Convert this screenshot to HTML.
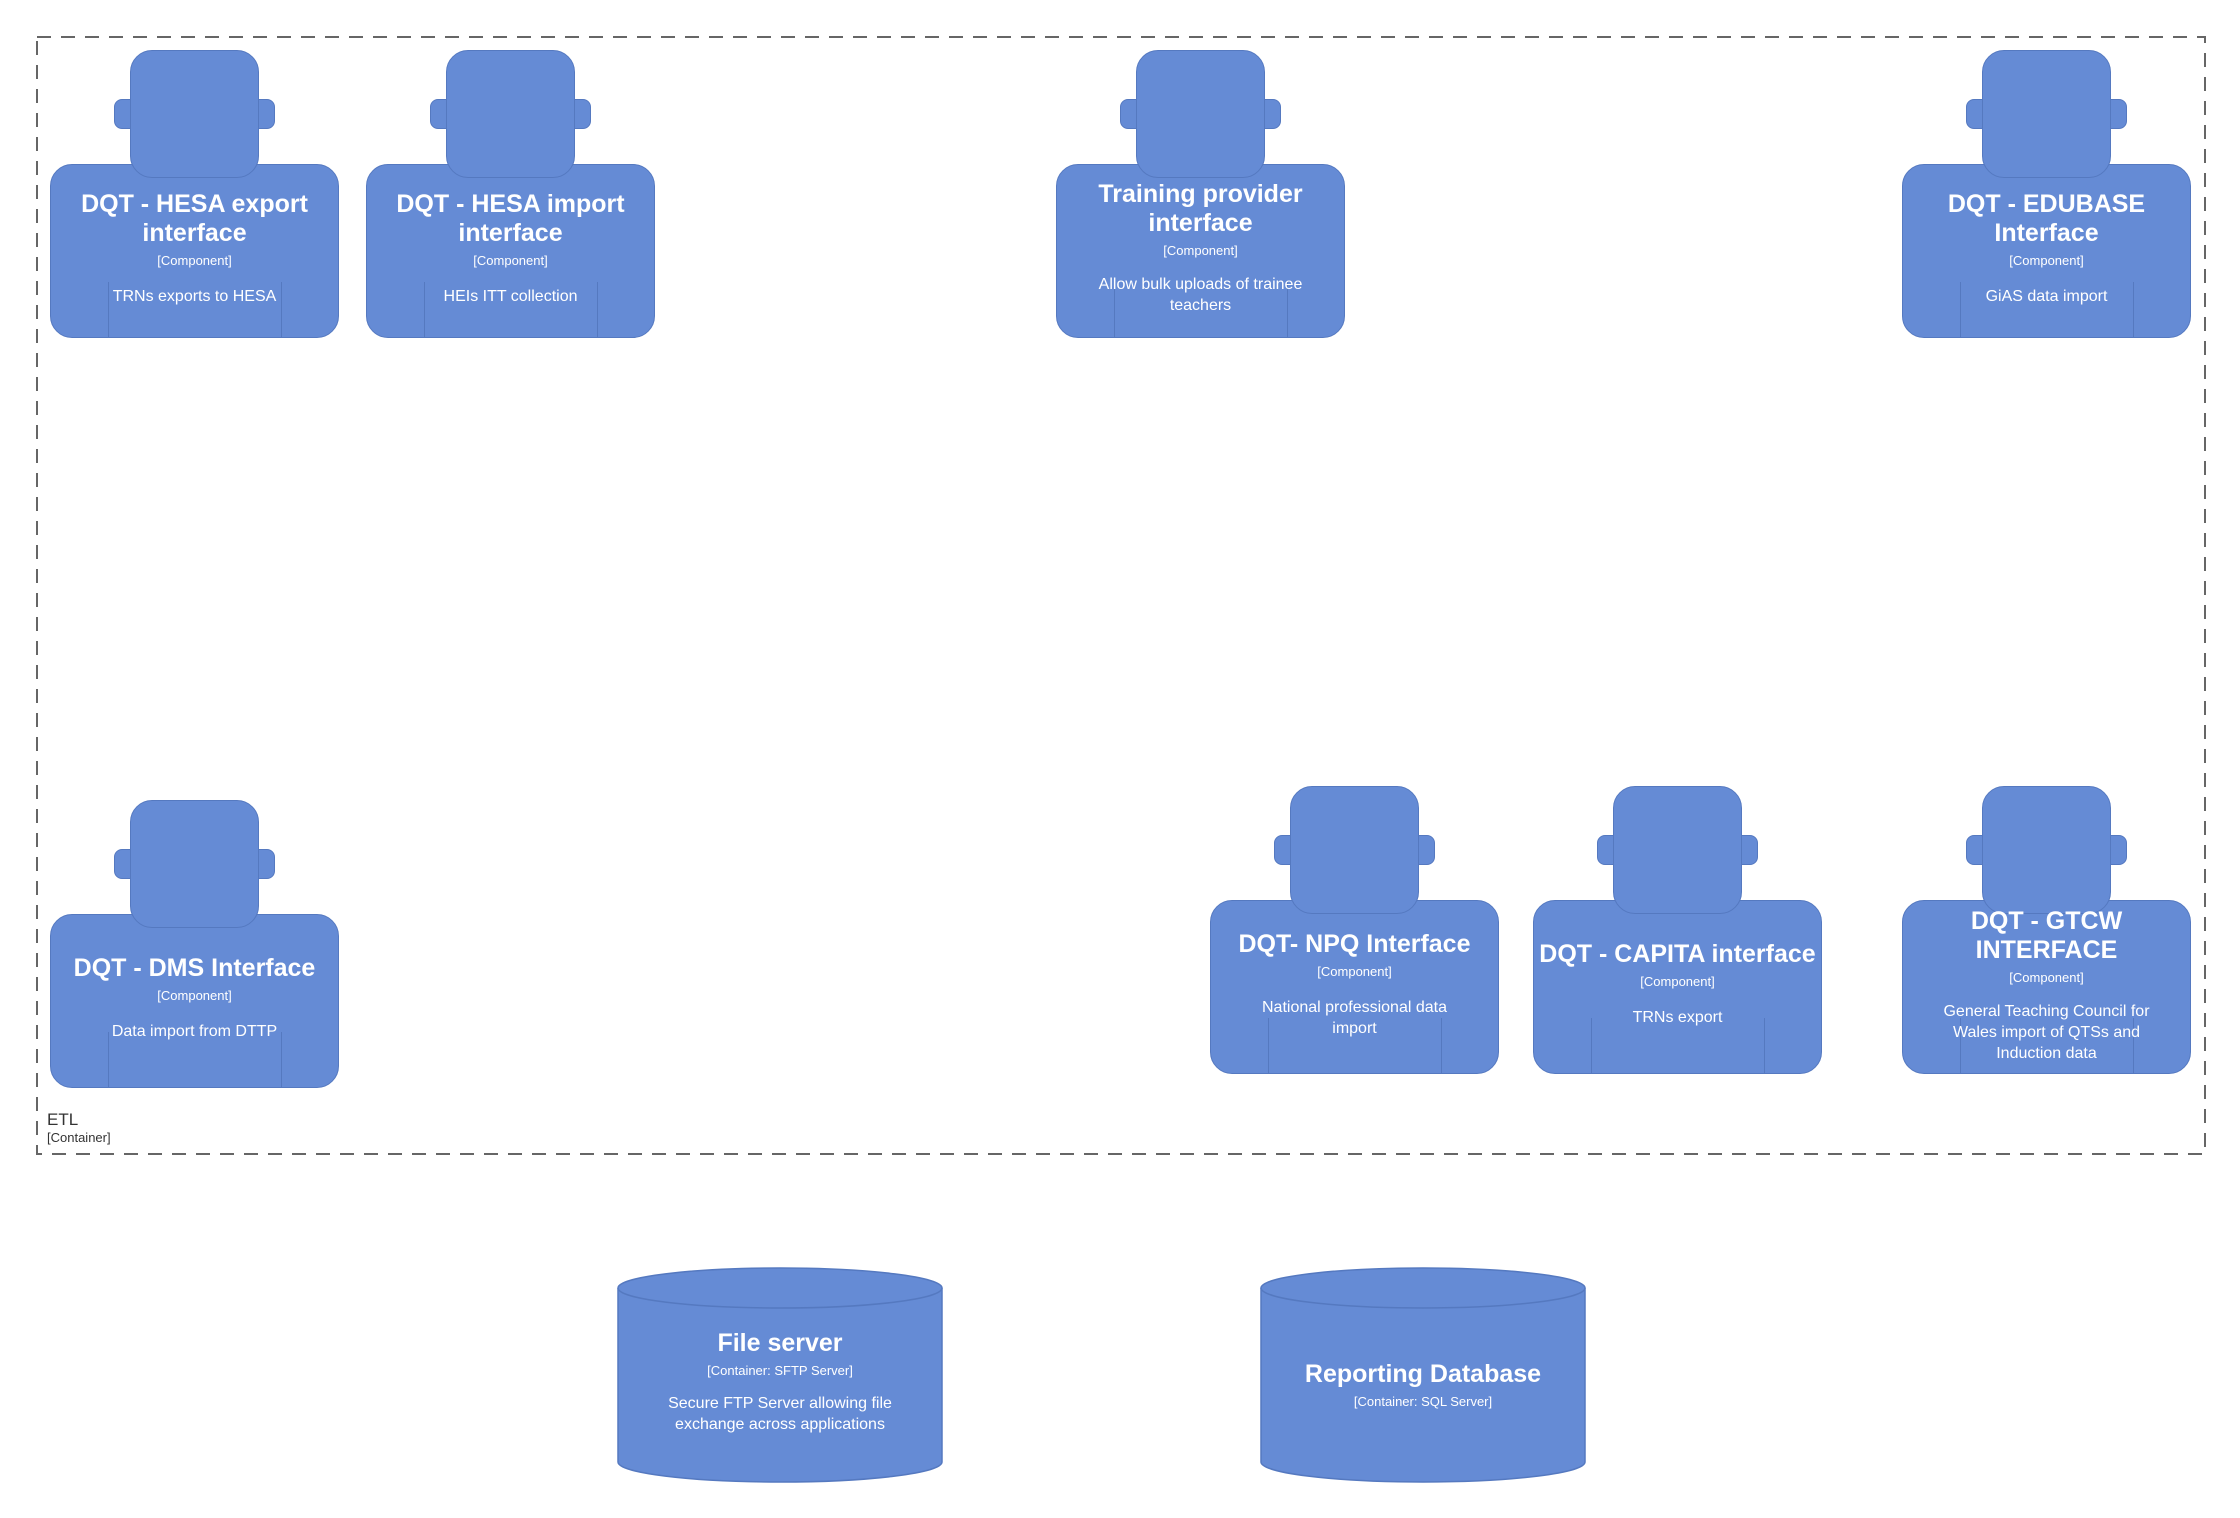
<!DOCTYPE html>
<html><head><meta charset="utf-8"><style>
body{margin:0;width:2240px;height:1518px;background:#fff;position:relative;overflow:hidden;font-family:"Liberation Sans",sans-serif;}
.lbl{position:absolute;left:47px;top:1110px;color:#333;font-size:17px;line-height:20px;}
.lbl small{display:block;font-size:13px;line-height:16px;}
.p{position:absolute;width:289px;height:288px;}
.p div{position:absolute;background:#658bd5;border:1.5px solid #5579c0;box-sizing:border-box;}
.ear{left:64px;top:49px;width:161px;height:30px;border-radius:8px;}
.head{left:80px;top:0;width:129px;height:128px;border-radius:22px;}
.body{left:0;top:114px;width:289px;height:174px;border-radius:22px;}
.p .txt{left:0;top:114px;width:289px;height:174px;background:none;border:none;display:flex;flex-direction:column;justify-content:center;align-items:center;text-align:center;color:#fff;padding:0 6px 6px;}
.p .ln{top:232px;width:0;height:56px;border:none;border-left:1px solid #5579c0;background:none;}
.t{font-weight:bold;font-size:25px;line-height:29px;}
.c{font-size:13px;line-height:16px;margin-top:5px;}
.d{font-size:16px;line-height:21px;margin-top:17px;max-width:240px;}
.cyl{position:absolute;width:326px;height:216px;}
.cyl .ct{position:absolute;left:0;top:0;width:326px;height:216px;display:flex;flex-direction:column;justify-content:center;align-items:center;text-align:center;color:#fff;padding-top:14px;box-sizing:border-box;}
</style></head><body>
<svg width="2240" height="1518" style="position:absolute;left:0;top:0"><rect x="37" y="37" width="2168" height="1117" fill="none" stroke="#666" stroke-width="2" stroke-dasharray="14,10"/></svg>
<div class="lbl">ETL<small>[Container]</small></div>

<div class="p" style="left:50px;top:50px"><div class="ear"></div><div class="body"></div><div class="head"></div><div class="ln" style="left:58px"></div><div class="ln" style="left:231px"></div><div class="txt"><span class="t">DQT - HESA export interface</span><span class="c">[Component]</span><span class="d">TRNs exports to HESA</span></div></div>
<div class="p" style="left:366px;top:50px"><div class="ear"></div><div class="body"></div><div class="head"></div><div class="ln" style="left:58px"></div><div class="ln" style="left:231px"></div><div class="txt"><span class="t">DQT - HESA import interface</span><span class="c">[Component]</span><span class="d">HEIs ITT collection</span></div></div>
<div class="p" style="left:1056px;top:50px"><div class="ear"></div><div class="body"></div><div class="head"></div><div class="ln" style="left:58px"></div><div class="ln" style="left:231px"></div><div class="txt"><span class="t">Training provider interface</span><span class="c">[Component]</span><span class="d" style="margin-top:15px">Allow bulk uploads of trainee teachers</span></div></div>
<div class="p" style="left:1902px;top:50px"><div class="ear"></div><div class="body"></div><div class="head"></div><div class="ln" style="left:58px"></div><div class="ln" style="left:231px"></div><div class="txt"><span class="t">DQT - EDUBASE Interface</span><span class="c">[Component]</span><span class="d">GiAS data import</span></div></div>

<div class="p" style="left:50px;top:800px"><div class="ear"></div><div class="body"></div><div class="head"></div><div class="ln" style="left:58px"></div><div class="ln" style="left:231px"></div><div class="txt"><span class="t">DQT - DMS Interface</span><span class="c">[Component]</span><span class="d">Data import from DTTP</span></div></div>
<div class="p" style="left:1210px;top:786px"><div class="ear"></div><div class="body"></div><div class="head"></div><div class="ln" style="left:58px"></div><div class="ln" style="left:231px"></div><div class="txt"><span class="t">DQT- NPQ Interface</span><span class="c">[Component]</span><span class="d" style="max-width:215px">National professional data import</span></div></div>
<div class="p" style="left:1533px;top:786px"><div class="ear"></div><div class="body"></div><div class="head"></div><div class="ln" style="left:58px"></div><div class="ln" style="left:231px"></div><div class="txt"><span class="t">DQT - CAPITA interface</span><span class="c">[Component]</span><span class="d">TRNs export</span></div></div>
<div class="p" style="left:1902px;top:786px"><div class="ear"></div><div class="body"></div><div class="head"></div><div class="ln" style="left:58px"></div><div class="ln" style="left:231px"></div><div class="txt" style="padding-bottom:4px"><span class="t">DQT - GTCW INTERFACE</span><span class="c">[Component]</span><span class="d" style="max-width:230px;margin-top:15px">General Teaching Council for Wales import of QTSs and Induction data</span></div></div>

<div class="cyl" style="left:617px;top:1267px">
<svg width="326" height="216" style="position:absolute;left:0;top:0"><path d="M1,21 A162,20 0 0 1 325,21 L325,195 A162,20 0 0 1 1,195 Z" fill="#658bd5" stroke="#5579c0" stroke-width="1.5"/><path d="M1,21 A162,20 0 0 0 325,21" fill="none" stroke="#5579c0" stroke-width="1.5"/></svg>
<div class="ct"><span class="t">File server</span><span class="c">[Container: SFTP Server]</span><span class="d" style="max-width:250px;margin-top:14px">Secure FTP Server allowing file exchange across applications</span></div></div>
<div class="cyl" style="left:1260px;top:1267px">
<svg width="326" height="216" style="position:absolute;left:0;top:0"><path d="M1,21 A162,20 0 0 1 325,21 L325,195 A162,20 0 0 1 1,195 Z" fill="#658bd5" stroke="#5579c0" stroke-width="1.5"/><path d="M1,21 A162,20 0 0 0 325,21" fill="none" stroke="#5579c0" stroke-width="1.5"/></svg>
<div class="ct" style="padding-top:20px"><span class="t">Reporting Database</span><span class="c">[Container: SQL Server]</span></div></div>
</body></html>
